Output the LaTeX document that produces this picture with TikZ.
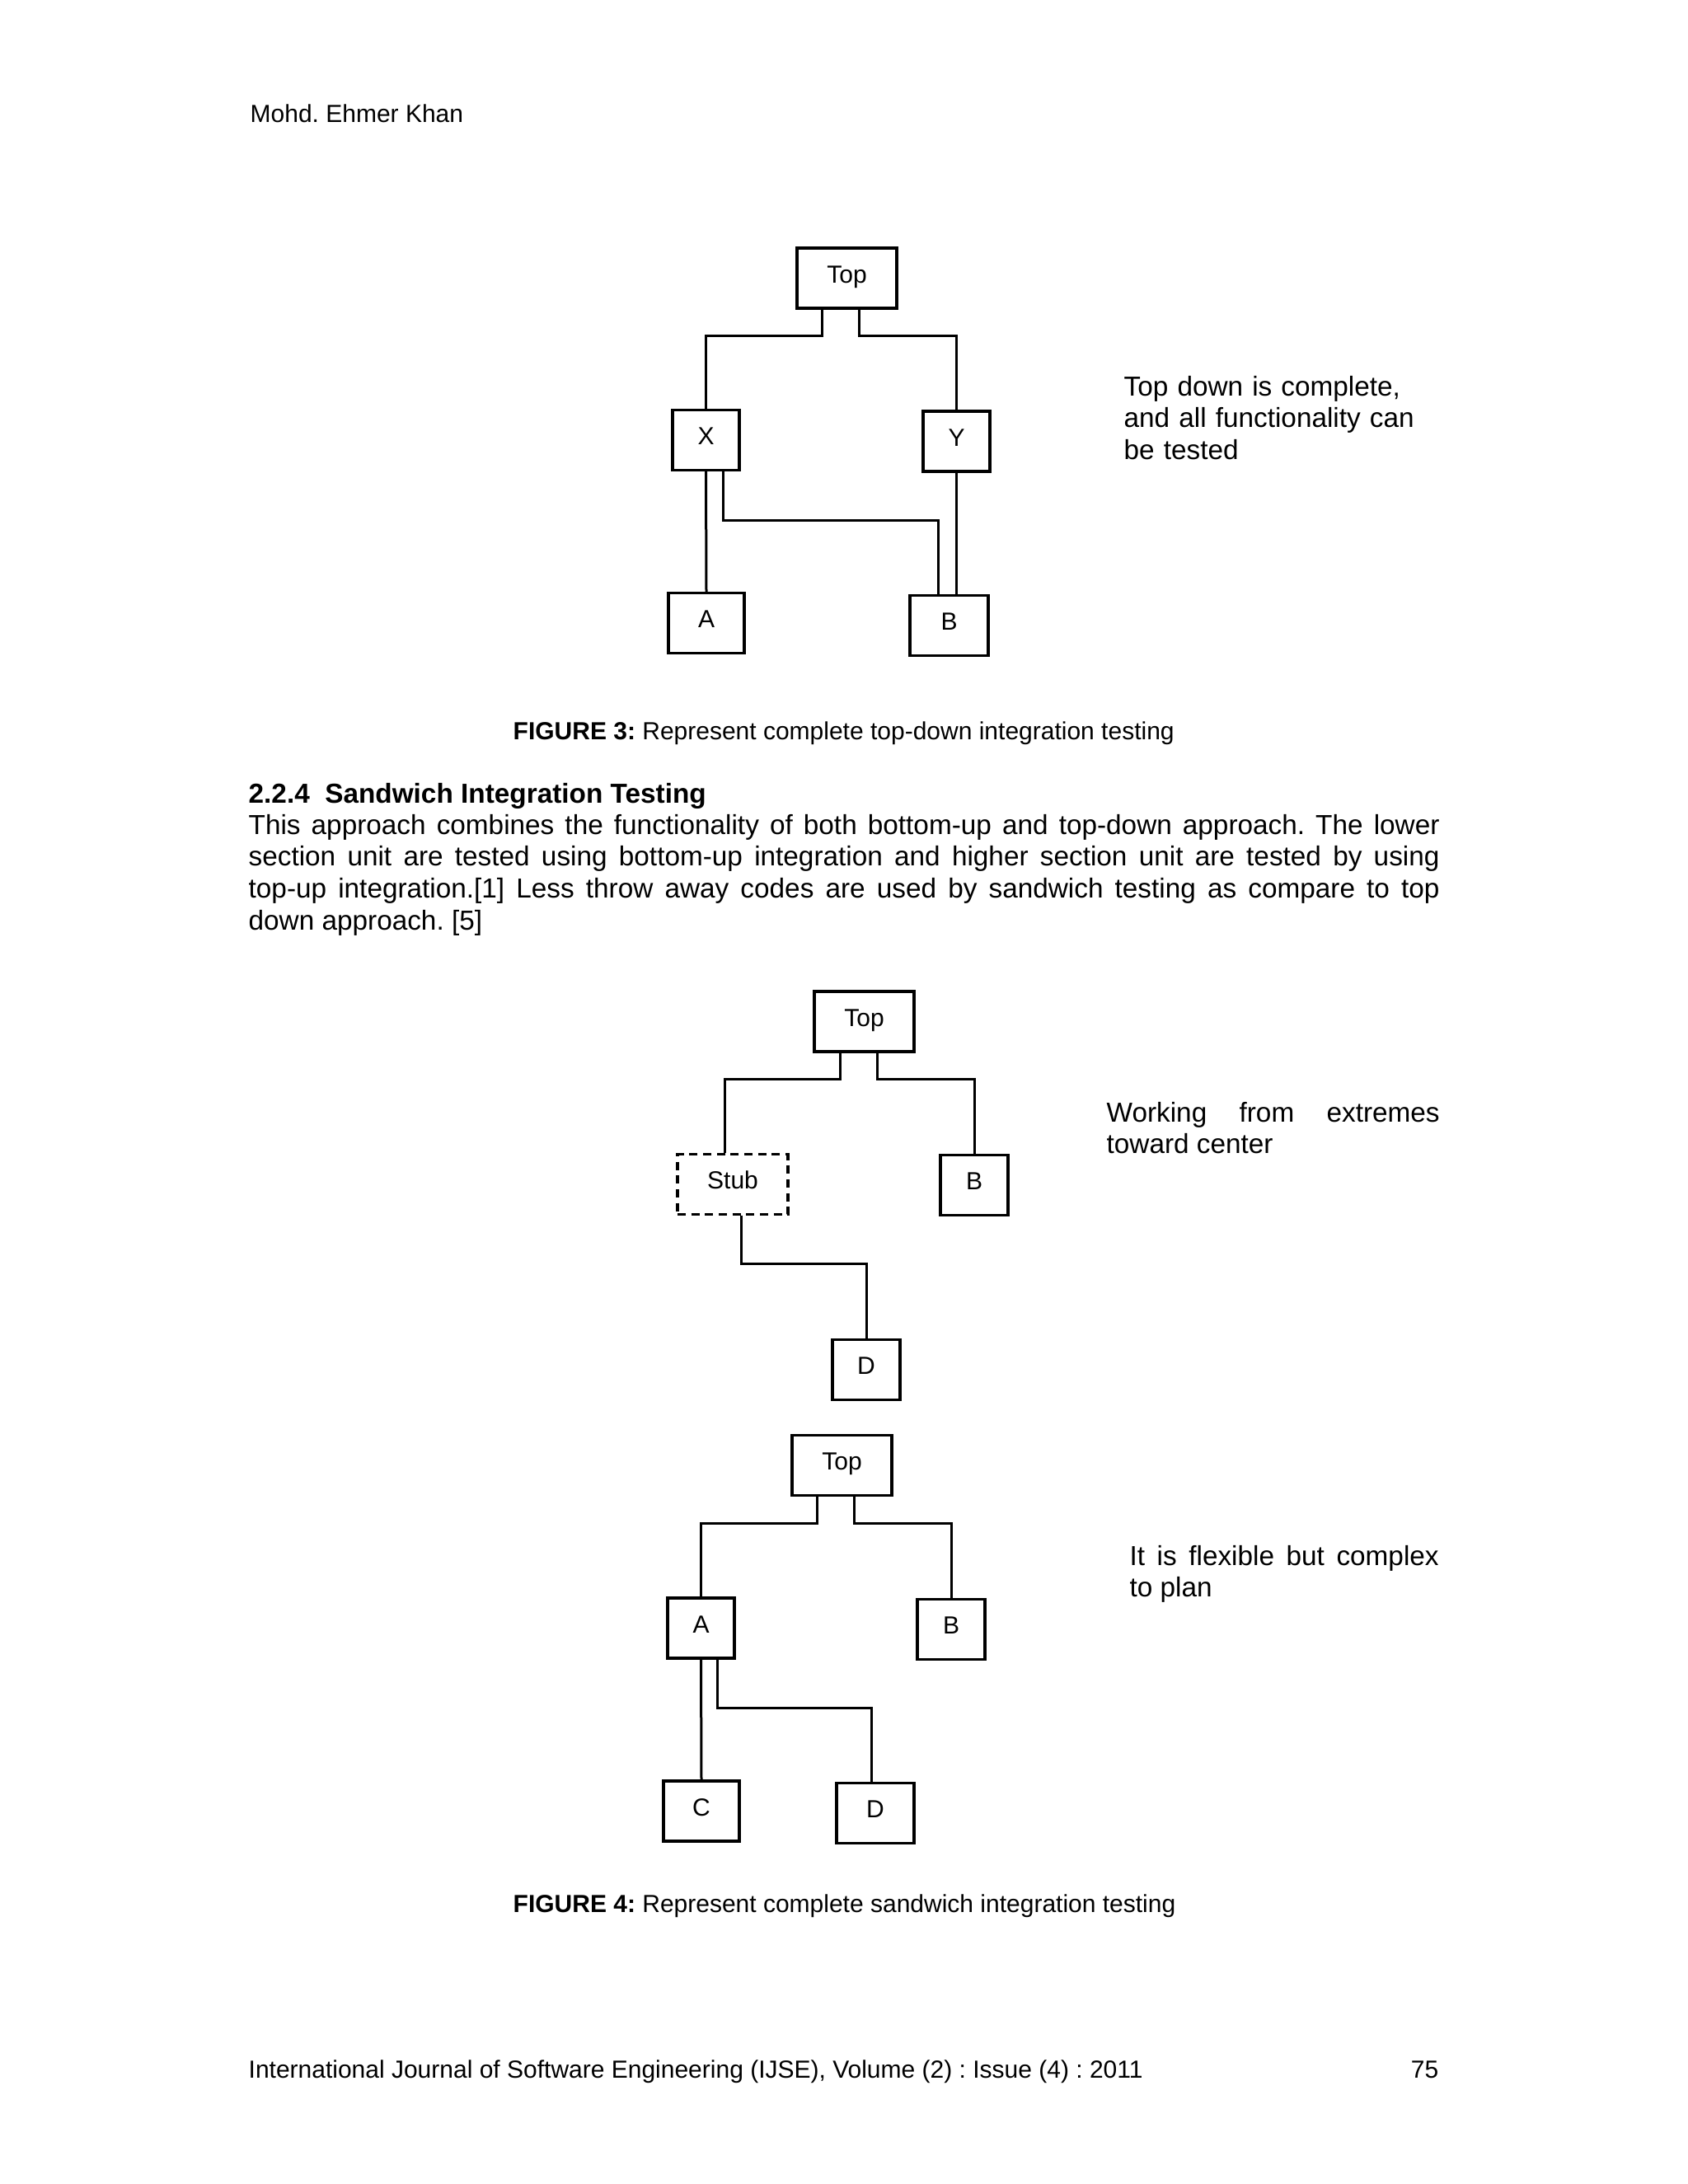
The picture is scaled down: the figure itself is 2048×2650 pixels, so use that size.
\documentclass[tikz,border=0pt]{standalone}
\usepackage{fontspec}
\setmainfont{Liberation Sans}
\usetikzlibrary{calc}
\hyphenpenalty=10000
\exhyphenpenalty=10000
\tolerance=10000
\frenchspacing

\begin{document}
\begin{tikzpicture}[x=0.3pt, y=-0.3pt,
    box/.style={draw, line width=1pt, minimum width=#1*0.3pt, minimum height=73*0.3pt,
        inner sep=0pt, text height=6.6pt, text depth=3.3pt, font=\fontsize{9}{11}\selectfont},
    stubbox/.style={box=#1, dash pattern=on 3pt off 2pt},
    link/.style={line width=0.9pt},
    txt/.style={anchor=base west, inner sep=0pt, font=\fontsize{10}{11.6}\selectfont},
    small/.style={anchor=base west, inner sep=0pt, font=\fontsize{9}{11}\selectfont}]

    \fill[white] (0,0) rectangle (2048,2650);
    \useasboundingbox (0,0) rectangle (2048,2650);

    \node[small] (author) at (303,148) {Mohd. Ehmer Khan};

    % figure 3
    \node[box=121] (t3) at (1027.5,337.5) {Top};
    \node[box=81] (x3) at (856.5,534) {X};
    \node[box=81] (y3) at (1160.5,535.5) {Y};
    \node[box=92] (a3) at (857,756) {A};
    \node[box=95] (b3) at (1151.5,759) {B};
    \draw[link] ($(t3.south)+(-30.5,0)$) -- ++(0,32) -| (x3.north);
    \draw[link] ($(t3.south)+(14.5,0)$) -- ++(0,32) -| (y3.north);
    \draw[link] (x3.south) -- (a3.north);
    \draw[link] ($(x3.south)+(20.5,0)$) -- ++(0,59) -| ($(b3.north)+(-13.5,0)$);
    \draw[link] (y3.south) -- (y3.south |- b3.north);
    \node[txt, text width=115pt, align=left] (note3) at (1363,480) {Top down is complete,\\and all functionality can\\be tested};
    \node[small] (cap3) at (622,897) {\textbf{FIGURE 3:} Represent complete top-down integration testing};

    % section text
    \node[txt, font=\fontsize{10}{11.6}\selectfont\bfseries] (head) at (301,974) {2.2.4\ \ Sandwich Integration Testing};
    \node[txt, text width=433.5pt, align=justify] (para) at (301,1012) {This approach combines the functionality of both bottom-up and top-down approach. The lower\linebreak
        section unit are tested using bottom-up integration and higher section unit are tested by using\linebreak
        top-up integration.[1] Less throw away codes are used by sandwich testing as compare to top\linebreak
        down approach. [5]};

    % figure 4, upper part
    \node[box=121] (t4) at (1048.5,1239.5) {Top};
    \node[stubbox=134] (s4) at (889,1437) {Stub};
    \node[box=82] (b4) at (1182,1438) {B};
    \node[box=82] (d4) at (1051,1662) {D};
    \draw[link] ($(t4.south)+(-29.5,0)$) -- ++(0,32) -| ($(s4.north)+(-10,0)$);
    \draw[link] ($(t4.south)+(15.5,0)$) -- ++(0,32) -| (b4.north);
    \draw[link] ($(s4.south)+(10,0)$) -- ++(0,58) -| (d4.north);
    \node[txt, text width=121.2pt, align=justify] (note4) at (1342,1361) {Working from extremes\linebreak toward center};

    % figure 4, lower part
    \node[box=121] (t5) at (1021.5,1778) {Top};
    \node[box=81] (a5) at (850.5,1975.5) {A};
    \node[box=82] (b5) at (1154,1977) {B};
    \node[box=92] (c5) at (851,2197.5) {C};
    \node[box=94] (d5) at (1062,2200) {D};
    \draw[link] ($(t5.south)+(-30.5,0)$) -- ++(0,32) -| (a5.north);
    \draw[link] ($(t5.south)+(14.5,0)$) -- ++(0,32) -| (b5.north);
    \draw[link] (a5.south) -- (c5.north);
    \draw[link] ($(a5.south)+(19.5,0)$) -- ++(0,59) -| ($(d5.north)+(-5,0)$);
    \node[txt, text width=112.5pt, align=justify] (note5) at (1370,1899) {It is flexible but complex\linebreak to plan};
    \node[small] (cap4) at (622,2320) {\textbf{FIGURE 4:} Represent complete sandwich integration testing};

    \node[small] (foot) at (301,2521) {International Journal of Software Engineering (IJSE), Volume (2) : Issue (4) : 2011};
    \node[small, anchor=base east] (page) at (1746,2521) {75};
\end{tikzpicture}
\end{document}
